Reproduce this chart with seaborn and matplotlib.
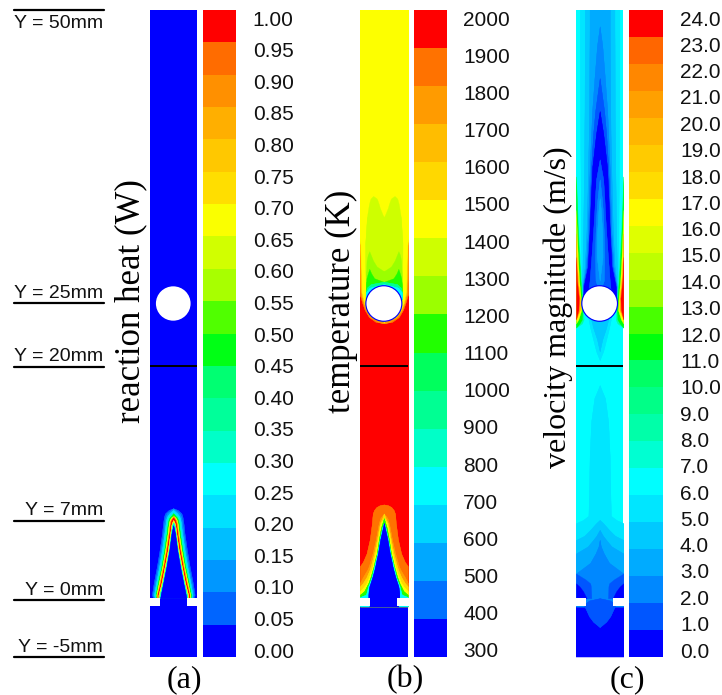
import numpy as np
import seaborn as sns
import matplotlib.pyplot as plt
from matplotlib.colors import LinearSegmentedColormap, ListedColormap
from matplotlib.patches import Circle

### Colour bar ticks (one more tick than bands)
ticks_a = [1.00, 0.95, 0.90, 0.85, 0.80, 0.75, 0.70, 0.65, 0.60, 0.55, 0.50,
           0.45, 0.40, 0.35, 0.30, 0.25, 0.20, 0.15, 0.10, 0.05, 0.00]
ticks_b = [2000, 1900, 1800, 1700, 1600, 1500, 1400, 1300, 1200, 1100, 1000,
           900, 800, 700, 600, 500, 400, 300]
ticks_c = [24.0, 23.0, 22.0, 21.0, 20.0, 19.0, 18.0, 17.0, 16.0, 15.0, 14.0, 13.0, 12.0,
           11.0, 10.0, 9.0, 8.0, 7.0, 6.0, 5.0, 4.0, 3.0, 2.0, 1.0, 0.0]

titles = ['reaction heat (W)', 'temperature (K)', 'velocity magnitude (m/s)']
tags = ['(a)', '(b)', '(c)']

### Height labels on the left
ref_mm = ['Y = 50mm', 'Y = 25mm', 'Y = 20mm', 'Y = 7mm', 'Y = 0mm', 'Y = -5mm']

### Contours: heights in mm and half widths in mm
### (a) flame sheet
a_y = [0.0, 0.3, 1.27, 2.7, 4.1, 5.5, 6.2, 6.45, 6.65, 6.85, 7.0, 7.22, 7.5, 7.64]
a_l1 = [1.70, 1.80, 1.65, 1.38, 1.15, 0.95, 0.88, 0.85, 0.82, 0.79, 0.76, 0.68, 0.38, 0.0]
a_l2 = [1.62, 1.72, 1.55, 1.28, 1.05, 0.85, 0.77, 0.74, 0.71, 0.67, 0.62, 0.52, 0.18, 0.0]
a_l3 = [1.55, 1.62, 1.45, 1.18, 0.95, 0.75, 0.66, 0.63, 0.60, 0.55, 0.48, 0.32, 0.0, 0.0]
a_l4 = [1.50, 1.55, 1.37, 1.10, 0.86, 0.66, 0.57, 0.54, 0.50, 0.44, 0.34, 0.0, 0.0, 0.0]
a_l5 = [1.45, 1.48, 1.30, 1.00, 0.76, 0.56, 0.48, 0.44, 0.40, 0.32, 0.18, 0.0, 0.0, 0.0]
a_l6 = [1.40, 1.42, 1.22, 0.92, 0.68, 0.47, 0.39, 0.35, 0.30, 0.18, 0.0, 0.0, 0.0, 0.0]
a_l7 = [1.35, 1.36, 1.14, 0.85, 0.60, 0.39, 0.31, 0.27, 0.21, 0.08, 0.0, 0.0, 0.0, 0.0]
a_l8 = [1.32, 1.32, 1.08, 0.79, 0.54, 0.33, 0.25, 0.20, 0.14, 0.0, 0.0, 0.0, 0.0, 0.0]
a_l9 = [1.26, 1.25, 1.00, 0.72, 0.46, 0.26, 0.17, 0.10, 0.0, 0.0, 0.0, 0.0, 0.0, 0.0]
a_l10 = [1.18, 1.15, 0.92, 0.64, 0.38, 0.20, 0.11, 0.0, 0.0, 0.0, 0.0, 0.0, 0.0, 0.0]
a_l11 = [1.10, 1.05, 0.85, 0.57, 0.33, 0.15, 0.0, 0.0, 0.0, 0.0, 0.0, 0.0, 0.0, 0.0]
a_layers = [(a_l1, 1), (a_l2, 2), (a_l3, 4), (a_l4, 6), (a_l5, 9), (a_l6, 13), (a_l7, 17),
            (a_l8, 19), (a_l9, 13), (a_l10, 6), (a_l11, 0)]

### (b) flame cone at the inlet
b_y = [-0.7, 0.0, 0.1, 0.3, 0.6, 1.0, 1.3, 1.8, 2.4, 2.73, 3.1, 3.8, 5.0, 6.0, 6.4, 6.8, 7.2, 7.5, 7.75, 7.9, 7.97]
b_l15 = [2.0, 2.0, 2.0, 2.0, 2.0, 2.0, 2.0, 2.0, 2.0, 2.0, 1.75, 1.45, 1.18, 1.05, 1.0, 0.97, 0.93, 0.82, 0.62, 0.35, 0.0]
b_l14 = [2.0, 2.0, 2.0, 2.0, 2.0, 2.0, 2.0, 1.75, 1.4, 1.25, 1.15, 0.95, 0.68, 0.5, 0.42, 0.3, 0.0, 0.0, 0.0, 0.0, 0.0]
b_l13 = [2.0, 2.0, 2.0, 2.0, 2.0, 2.0, 1.75, 1.45, 1.2, 1.1, 1.0, 0.82, 0.58, 0.4, 0.32, 0.14, 0.0, 0.0, 0.0, 0.0, 0.0]
b_l12 = [2.0, 2.0, 2.0, 2.0, 2.0, 1.65, 1.45, 1.25, 1.05, 0.95, 0.88, 0.72, 0.5, 0.34, 0.26, 0.0, 0.0, 0.0, 0.0, 0.0, 0.0]
b_l8 = [2.0, 2.0, 2.0, 2.0, 1.65, 1.45, 1.3, 1.12, 0.95, 0.85, 0.78, 0.6, 0.42, 0.24, 0.12, 0.0, 0.0, 0.0, 0.0, 0.0, 0.0]
b_l4 = [2.0, 2.0, 2.0, 1.5, 1.42, 1.32, 1.2, 1.02, 0.88, 0.8, 0.72, 0.55, 0.35, 0.14, 0.0, 0.0, 0.0, 0.0, 0.0, 0.0, 0.0]
b_l0 = [1.2, 1.3, 1.3, 1.3, 1.28, 1.22, 1.12, 0.96, 0.8, 0.72, 0.65, 0.5, 0.3, 0.08, 0.0, 0.0, 0.0, 0.0, 0.0, 0.0, 0.0]
b_cone = [(b_l15, 15), (b_l14, 14), (b_l13, 12), (b_l12, 11), (b_l8, 8), (b_l4, 4), (b_l0, 0)]

### (b) hot wake above the sphere
b_wake_y = [23.37, 23.5, 23.9, 24.5, 25.07, 25.6, 26.0, 30.0, 31.0, 50.5]
b_w15 = [0.0, 0.7, 1.25, 1.6, 1.8, 1.95, 2.1, 2.1, 2.1, 2.1]
b_w14 = [0.0, 0.5, 1.15, 1.52, 1.73, 1.88, 1.95, 2.1, 2.1, 2.1]
b_w13 = [0.0, 0.0, 1.02, 1.45, 1.66, 1.8, 1.88, 1.98, 2.1, 2.1]
b_w12 = [0.0, 0.0, 0.85, 1.38, 1.6, 1.72, 1.82, 1.94, 2.1, 2.1]
b_wake = [(b_w15, 15), (b_w14, 14), (b_w13, 12), (b_w12, 11)]

b_lobe_y = [24.4, 25.5, 26.5, 27.9, 30.2, 32.4, 32.6, 33.2, 33.5, 33.9, 34.0, 34.2]
b_lobe11_out = [1.0, 1.55, 1.52, 1.55, 1.56, 1.42, 1.39, 1.3, 1.25, 1.15, 1.1, 0.9]
b_lobe11_in = [0.0, 0.0, 0.0, 0.0, 0.0, 0.0, 0.1, 0.34, 0.42, 0.56, 0.62, 0.9]
b_lobe2_y = [24.4, 25.5, 26.5, 27.8, 28.2, 28.7, 29.2, 29.5]
b_lobe10_out = [1.0, 1.52, 1.5, 1.48, 1.47, 1.45, 1.35, 1.22]
b_lobe10_in = [0.0, 0.0, 0.0, 0.0, 0.6, 0.9, 1.1, 1.22]
b_lobe3_y = [24.4, 25.5, 26.6, 26.9, 27.2, 27.6, 28.0]
b_lobe8_out = [1.0, 1.52, 1.5, 1.48, 1.46, 1.35, 1.22]
b_lobe8_in = [0.0, 0.0, 0.0, 0.0, 0.8, 1.05, 1.22]
b_cap_y = [24.4, 25.5, 26.0, 26.4, 26.7, 26.9]
b_cap6 = [1.0, 1.52, 1.52, 1.42, 1.1, 0.0]
b_cap4 = [1.0, 1.52, 1.5, 1.2, 0.0, 0.0]
b_lobes = [(b_lobe_y, b_lobe11_out, b_lobe11_in, 10),
           (b_lobe2_y, b_lobe10_out, b_lobe10_in, 9),
           (b_lobe3_y, b_lobe8_out, b_lobe8_in, 8),
           (b_cap_y, b_cap6, None, 6),
           (b_cap_y, b_cap4, None, 4)]

### (c) jet below the sphere
c_y = [-0.7, 0.0, 1.27, 2.1, 3.0, 3.8, 4.4, 4.95, 5.3, 5.8, 6.37, 6.65, 7.0, 9.0, 12.0, 15.0, 17.0, 17.8, 18.1]
c_l5 = [2.0, 2.0, 2.0, 2.0, 2.0, 2.0, 2.0, 2.0, 2.0, 2.0, 2.0, 1.4, 0.95, 0.9, 0.85, 0.72, 0.45, 0.12, 0.0]
c_l4 = [2.0, 2.0, 2.0, 2.0, 2.0, 2.0, 2.0, 2.0, 1.3, 0.8, 0.3, 0.0, 0.0, 0.0, 0.0, 0.0, 0.0, 0.0, 0.0]
c_l3 = [2.0, 2.0, 2.0, 2.0, 2.0, 2.0, 1.0, 0.55, 0.28, 0.0, 0.0, 0.0, 0.0, 0.0, 0.0, 0.0, 0.0, 0.0, 0.0]
c_l2 = [2.0, 2.0, 2.0, 2.0, 0.8, 0.35, 0.1, 0.0, 0.0, 0.0, 0.0, 0.0, 0.0, 0.0, 0.0, 0.0, 0.0, 0.0, 0.0]
c_jet = [(c_l5, 5), (c_l4, 4), (c_l3, 3), (c_l2, 2)]

c_corner_y = [0.0, 0.6, 1.0, 1.27, 1.6, 2.1]
c_corner1_in = [0.7, 0.72, 0.74, 0.8, 1.2, 2.0]
c_corner0_in = [1.1, 1.4, 1.7, 2.0, 2.0, 2.0]
c_core_y = [-2.46, -2.0, -1.53, -0.64, -0.4, -0.2, 0.0]
c_core1 = [0.0, 0.55, 0.9, 1.3, 1.15, 0.9, 0.0]

c_under_y = [20.25, 21.0, 22.0, 23.0, 24.0]
c_under5 = [0.0, 0.3, 0.55, 0.8, 1.0]
c_under4 = [0.0, 0.0, 0.22, 0.55, 0.8]

### (c) wake above the sphere
c_wake_y = [24.8, 26.5, 28.2, 31.0, 33.9, 36.7, 39.5, 41.4, 44.2, 47.0, 48.6, 50.5]
c_w5 = [1.46, 1.55, 1.55, 1.58, 1.6, 1.62, 1.64, 1.65, 1.66, 1.67, 1.67, 1.67]
c_w4 = [1.46, 1.5, 1.45, 1.4, 1.36, 1.32, 1.3, 1.28, 1.27, 1.26, 1.25, 1.25]
c_w3 = [1.46, 1.45, 1.26, 1.12, 1.04, 0.98, 0.92, 0.9, 0.88, 0.86, 0.85, 0.85]
c_w2 = [1.44, 1.42, 1.16, 1.0, 0.92, 0.84, 0.72, 0.64, 0.44, 0.22, 0.0, 0.0]
c_w1 = [1.42, 1.4, 1.08, 0.9, 0.82, 0.72, 0.55, 0.38, 0.0, 0.0, 0.0, 0.0]
c_w0 = [1.4, 1.35, 1.0, 0.86, 0.75, 0.62, 0.3, 0.0, 0.0, 0.0, 0.0, 0.0]
c_wake = [(c_w5, 5), (c_w4, 4), (c_w3, 3), (c_w2, 2), (c_w1, 1), (c_w0, 0)]

c_core_wake_y = [26.0, 27.0, 29.0, 31.0, 33.0, 34.0, 35.6, 37.3]
c_k1 = [0.95, 0.85, 0.7, 0.56, 0.44, 0.4, 0.3, 0.0]
c_k2 = [0.0, 0.35, 0.38, 0.35, 0.26, 0.18, 0.0, 0.0]
c_k3 = [0.0, 0.0, 0.24, 0.22, 0.1, 0.0, 0.0, 0.0]
c_core_wake = [(c_k1, 1), (c_k2, 2), (c_k3, 3)]

### (c) fast stream between sphere and wall
c_gap_y = [23.0, 23.35, 23.7, 24.5, 25.5, 27.0, 29.0, 31.0, 33.0, 35.85]
c_g8_in = [2.0, 1.5, 1.35, 1.4, 1.45, 1.56, 1.68, 1.8, 1.88, 2.0]
c_g11_in = [2.0, 1.7, 1.5, 1.45, 1.5, 1.62, 1.74, 1.84, 1.92, 2.0]
c_g16_in = [2.0, 2.0, 1.8, 1.55, 1.6, 1.74, 1.85, 1.93, 2.0, 2.0]
c_g20_in = [2.0, 2.0, 2.0, 1.68, 1.68, 1.84, 1.95, 2.0, 2.0, 2.0]
c_g23_in = [2.0, 2.0, 2.0, 1.8, 1.76, 1.92, 2.0, 2.0, 2.0, 2.0]
c_gap = [(c_g8_in, 8), (c_g11_in, 11), (c_g16_in, 16), (c_g20_in, 20), (c_g23_in, 23)]

### Colours: the stepped rainbow of the plots
ramp = LinearSegmentedColormap.from_list('rainbow_steps', [
    (0.0, '#0000ff'), (0.05, '#0064ff'), (0.1, '#0096ff'), (0.15, '#00b9ff'),
    (0.2, '#00ddff'), (0.26, '#00ffff'), (0.304, '#00ffd0'), (0.348, '#00ffaa'),
    (0.391, '#00ff88'), (0.435, '#00ff66'), (0.485, '#00ff00'), (0.5625, '#99ff00'),
    (0.625, '#ccff00'), (0.693, '#ffff00'), (0.739, '#ffdd00'), (0.783, '#ffcc00'),
    (0.826, '#ffb800'), (0.87, '#ffa000'), (0.913, '#ff8800'), (0.957, '#ff6600'),
    (1.0, '#ff0000')])


def level_color(level, nbands):
    return ramp(level / (nbands - 1))


def band(ax, y, outer, color, inner=None):
    y = np.array(y)
    outer = np.array(outer, dtype=float)
    inner = np.zeros(len(y)) if inner is None else np.array(inner)
    # drop the stretch where the contour has no width
    open_part = outer > inner
    keep = open_part.copy()
    keep[1:] |= open_part[:-1]
    keep[:-1] |= open_part[1:]
    y, outer, inner = y[keep], outer[keep], inner[keep]
    ax.fill_betweenx(y, inner, outer, color=color, lw=0.2)
    ax.fill_betweenx(y, -inner, -outer, color=color, lw=0.2)
    # one piece across the axis, so no seam shows in the middle
    solid = inner == 0
    if solid.sum() > 1:
        ax.fill_betweenx(y[solid], -outer[solid], outer[solid], color=color, lw=0.2)


def panel_axes(fig, x0, x1):
    return fig.add_axes([x0 / 722, 1 - 657 / 695, (x1 - x0) / 722, 647 / 695])


def colour_bar(fig, x0, x1, ticks, fmt):
    ticks = np.array(ticks, dtype=float)
    nbands = len(ticks) - 1
    cells = (ticks[:-1] + ticks[1:]) / 2
    colours = [level_color(i, nbands) for i in range(nbands)]
    ax = panel_axes(fig, x0, x1)
    sns.heatmap(cells.reshape(-1, 1), ax=ax, cmap=ListedColormap(colours),
                vmin=ticks.min(), vmax=ticks.max(), cbar=False, xticklabels=False)
    # the labels sit a little inside the ends of the bar
    ax.set_yticks(np.linspace(8 / 647 * nbands, 640 / 647 * nbands, len(ticks)))
    ax.set_yticklabels([fmt % t for t in ticks], rotation=0, fontsize=15,
                       family='Liberation Sans', color='#111111')
    ax.yaxis.tick_right()
    ax.tick_params(axis='y', length=0, pad=12)
    return ax


def field_axes(fig, x0, x1, nbands, base):
    ax = panel_axes(fig, x0, x1)
    ax.set_xlim(-2, 2)
    ax.set_ylim(-5, 50)
    ax.set_axis_off()
    ax.axhspan(-5, 50, color=level_color(base, nbands), lw=0)
    return ax


def finish_field(ax):
    ax.axhline(19.75, color='black', lw=1.4, zorder=6)
    ax.fill_between([-2.1, -1.13], -0.7, 0.0, color='white', lw=0, zorder=6)
    ax.fill_between([1.13, 2.1], -0.7, 0.0, color='white', lw=0, zorder=6)
    ax.add_patch(Circle((0, 25.05), 1.46, color='white', lw=0, zorder=5))


sns.set_theme(style='white')
fig = plt.figure(figsize=(7.22, 6.95), dpi=100)

### (a)
ax = field_axes(fig, 149.5, 197, 20, 0)
for hw, level in a_layers:
    band(ax, a_y, hw, level_color(level, 20))
finish_field(ax)
colour_bar(fig, 203, 236, ticks_a, '%.2f')

### (b)
ax = field_axes(fig, 360, 407.7, 17, 0)
band(ax, [-0.7, 50.5], [2.1, 2.1], level_color(16, 17))
for hw, level in b_cone:
    band(ax, b_y, hw, level_color(level, 17))
for hw, level in b_wake:
    band(ax, b_wake_y, hw, level_color(level, 17))
for y, outer, inner, level in b_lobes:
    band(ax, y, outer, level_color(level, 17), inner)
ax.add_patch(Circle((0, 25.05), 1.56, color=level_color(0, 17), lw=0, zorder=4))
finish_field(ax)
colour_bar(fig, 413.7, 446.7, ticks_b, '%d')

### (c)
ax = field_axes(fig, 576, 623.3, 24, 6)
band(ax, [-5, -0.7], [2.1, 2.1], level_color(0, 24))
for hw, level in c_jet:
    band(ax, c_y, hw, level_color(level, 24))
band(ax, c_corner_y, [2, 2, 2, 2, 2, 2], level_color(1, 24), c_corner1_in)
band(ax, c_corner_y, [2, 2, 2, 2, 2, 2], level_color(0, 24), c_corner0_in)
band(ax, c_core_y, c_core1, level_color(1, 24))
band(ax, c_under_y, c_under5, level_color(5, 24))
band(ax, c_under_y, c_under4, level_color(4, 24))
for hw, level in c_wake:
    band(ax, c_wake_y, hw, level_color(level, 24))
for hw, level in c_core_wake:
    band(ax, c_core_wake_y, hw, level_color(level, 24))
for hw, level in c_gap:
    band(ax, c_gap_y, [2] * len(c_gap_y), level_color(level, 24), hw)
ax.add_patch(Circle((0, 25.05), 1.56, color=level_color(0, 24), lw=0, zorder=4))
finish_field(ax)
colour_bar(fig, 629.3, 663.3, ticks_c, '%.1f')

### Annotation layer in picture pixels
over = fig.add_axes([0, 0, 1, 1])
over.set_xlim(0, 722)
over.set_ylim(695, 0)
over.set_axis_off()
over.patch.set_alpha(0)

line_px = [10, 303, 367, 521, 600, 657]
base_px = [28, 298, 361, 515, 595, 652]
for label, ly, by in zip(ref_mm, line_px, base_px):
    over.plot([14, 104], [ly, ly], color='black', lw=1.6)
    over.text(103, by, label, ha='right', va='baseline', fontsize=14,
              family='Liberation Sans', color='#111111')

for title, x, y, size in zip(titles, [131, 341, 558], [301, 301, 307], [25, 25, 23]):
    over.text(x, y, title, rotation=90, ha='center', va='center', fontsize=size,
              family='Liberation Serif', color='black')
for tag, x in zip(tags, [184, 405, 627]):
    over.text(x, 680, tag, ha='center', va='center', fontsize=23,
              family='Liberation Serif', color='black')

fig.savefig('out.png', dpi=100)
